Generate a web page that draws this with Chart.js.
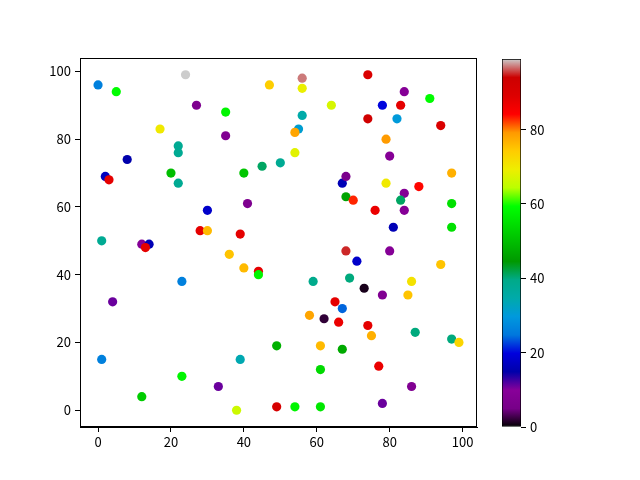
<!DOCTYPE html>
<html>
<head>
<meta charset="utf-8">
<script src="https://cdn.jsdelivr.net/npm/chart.js@4"></script>
<style>
  body { margin: 0; background: #fff; }
  canvas { position: absolute; left: 0; top: 0; }
</style>
</head>
<body>
<canvas id="scatterChart" width="640" height="480"></canvas>
<canvas id="colorbarChart" width="640" height="480"></canvas>
<script>

// point positions and colour values
const x_values = [0, 5, 24, 27, 17, 22, 22, 8, 2, 3, 20, 22, 56, 47, 56, 64, 35, 56, 55, 54,
  35, 54, 50, 45, 40, 67, 68, 74, 84, 91, 78, 83, 74, 82, 94, 79, 80, 97, 79, 88,
  30, 28, 30, 1, 12, 14, 13, 23, 4, 41, 39, 36, 40, 44, 44, 59, 65, 67, 68, 68,
  69, 84, 83, 70, 97, 76, 84, 81, 97, 80, 71, 94, 86, 73, 78, 85, 1, 12, 23, 33,
  58, 62, 66, 49, 61, 67, 39, 61, 38, 49, 54, 61, 74, 75, 87, 97, 99, 77, 86, 78];
const y_values = [96, 94, 99, 90, 83, 78, 76, 74, 69, 68, 70, 67, 98, 96, 95, 90, 88, 87, 83, 82,
  81, 76, 73, 72, 70, 67, 69, 99, 94, 92, 90, 90, 86, 86, 84, 80, 75, 70, 67, 66,
  59, 53, 53, 50, 49, 49, 48, 38, 32, 61, 52, 46, 42, 41, 40, 38, 32, 30, 63, 47,
  39, 64, 62, 62, 61, 59, 59, 54, 54, 47, 44, 43, 38, 36, 34, 34, 15, 4, 10, 7,
  28, 27, 26, 19, 19, 18, 15, 12, 0, 1, 1, 1, 25, 22, 23, 21, 20, 13, 7, 2];
const c_values = [26, 59, 99, 7, 70, 38, 38, 15, 17, 88, 50, 38, 97, 74, 69, 67, 58, 35, 31, 78,
  8, 68, 38, 41, 51, 16, 6, 90, 9, 59, 20, 88, 93, 30, 90, 79, 9, 77, 70, 84,
  18, 88, 76, 38, 9, 16, 88, 26, 11, 7, 88, 75, 76, 88, 58, 39, 88, 24, 46, 95,
  40, 9, 41, 83, 55, 87, 9, 16, 55, 9, 18, 75, 71, 1, 8, 75, 26, 52, 58, 11,
  78, 2, 87, 48, 76, 47, 34, 54, 66, 91, 58, 56, 88, 77, 40, 40, 73, 87, 8, 11];

const c_min = 0;
const c_max = 99;
const axis_ticks = [0, 20, 40, 60, 80, 100];
const colorbar_ticks = [0, 20, 40, 60, 80];

// nipy_spectral nodes (every 0.05)
const NIPY_R = [0, 0.4667, 0.5333, 0, 0, 0, 0, 0, 0, 0, 0, 0, 0, 0.7333, 0.9333, 1, 1, 1, 0.8667, 0.8, 0.8];
const NIPY_G = [0, 0, 0, 0, 0, 0.4667, 0.6, 0.6667, 0.6667, 0.6, 0.7333, 0.8667, 1, 1, 0.9333, 0.8, 0.6, 0, 0, 0, 0.8];
const NIPY_B = [0, 0.5333, 0.6, 0.6667, 0.8667, 0.8667, 0.8667, 0.6667, 0.5333, 0, 0, 0, 0, 0, 0, 0, 0, 0, 0, 0, 0.8];

function nipy_spectral(t) {
  t = Math.min(1, Math.max(0, t));
  var pos = t * 20;
  var i = Math.min(19, Math.floor(pos));
  var f = pos - i;
  var r = NIPY_R[i] + (NIPY_R[i + 1] - NIPY_R[i]) * f;
  var g = NIPY_G[i] + (NIPY_G[i + 1] - NIPY_G[i]) * f;
  var b = NIPY_B[i] + (NIPY_B[i + 1] - NIPY_B[i]) * f;
  return 'rgb(' + Math.round(r * 255) + ',' + Math.round(g * 255) + ',' + Math.round(b * 255) + ')';
}

const FONT = { family: "'Noto Sans CJK SC', 'DejaVu Sans', sans-serif", size: 13 };

var points = [];
var point_colors = [];
for (var i = 0; i < x_values.length; i++) {
  points.push({ x: x_values[i], y: y_values[i] });
  point_colors.push(nipy_spectral((c_values[i] - c_min) / (c_max - c_min)));
}

const frame_plugin = {
  id: 'frame',
  afterDraw(chart) {
    const a = chart.chartArea;
    const ctx = chart.ctx;
    ctx.save();
    ctx.strokeStyle = '#000';
    ctx.lineWidth = 1;
    ctx.strokeRect(a.left + 0.5, a.top + 0.5, a.right - a.left - 1, a.bottom - a.top - 1);
    ctx.restore();
  }
};

function fixed_ticks(values) {
  return function (scale) {
    scale.ticks = values.map(function (v) { return { value: v }; });
  };
}

const scatter_config = {
  type: 'scatter',
  data: {
    datasets: [{
      data: points,
      backgroundColor: point_colors,
      borderWidth: 0,
      pointRadius: 4.6,
      pointHoverRadius: 4.6
    }]
  },
  options: {
    responsive: false,
    animation: false,
    layout: { padding: { left: 0, right: 163, top: 58, bottom: 0 } },
    plugins: { legend: { display: false }, tooltip: { enabled: false } },
    scales: {
      x: {
        type: 'linear',
        min: -4.95,
        max: 103.95,
        afterBuildTicks: fixed_ticks(axis_ticks),
        afterFit(scale) { scale.height = 53; },
        grid: { drawOnChartArea: false, tickLength: 5, tickColor: '#000' },
        border: { color: '#000' },
        ticks: { color: '#000', font: FONT, padding: 2, maxRotation: 0 }
      },
      y: {
        type: 'linear',
        min: -4.95,
        max: 103.95,
        afterBuildTicks: fixed_ticks(axis_ticks),
        afterFit(scale) { scale.width = 80; },
        grid: { drawOnChartArea: false, tickLength: 5, tickColor: '#000' },
        border: { color: '#000' },
        ticks: { color: '#000', font: FONT, padding: 4 }
      }
    }
  },
  plugins: [frame_plugin]
};

const scatterChart = new Chart(document.getElementById('scatterChart'), scatter_config);

function colorbar_fill(context) {
  const chart = context.chart;
  const a = chart.chartArea;
  if (!a) return null;
  const grad = chart.ctx.createLinearGradient(0, a.bottom, 0, a.top);
  for (var k = 0; k <= 20; k++) {
    grad.addColorStop(k / 20, nipy_spectral(k / 20));
  }
  return grad;
}

const colorbar_config = {
  type: 'bar',
  data: {
    labels: ['c'],
    datasets: [{
      data: [[c_min, c_max]],
      backgroundColor: colorbar_fill,
      borderColor: '#000',
      borderWidth: 1,
      borderSkipped: false,
      barPercentage: 1,
      categoryPercentage: 1
    }]
  },
  options: {
    responsive: false,
    animation: false,
    layout: { padding: { left: 502, right: 0, top: 59, bottom: 53 } },
    plugins: { legend: { display: false }, tooltip: { enabled: false } },
    scales: {
      x: { display: false },
      y: {
        position: 'right',
        min: c_min,
        max: c_max,
        afterBuildTicks: fixed_ticks(colorbar_ticks),
        afterFit(scale) { scale.width = 119; },
        grid: { drawOnChartArea: false, tickLength: 5, tickColor: '#000' },
        border: { display: false },
        ticks: { color: '#000', font: FONT, padding: 4 }
      }
    }
  }
};

const colorbarChart = new Chart(document.getElementById('colorbarChart'), colorbar_config);

</script>
</body>
</html>
